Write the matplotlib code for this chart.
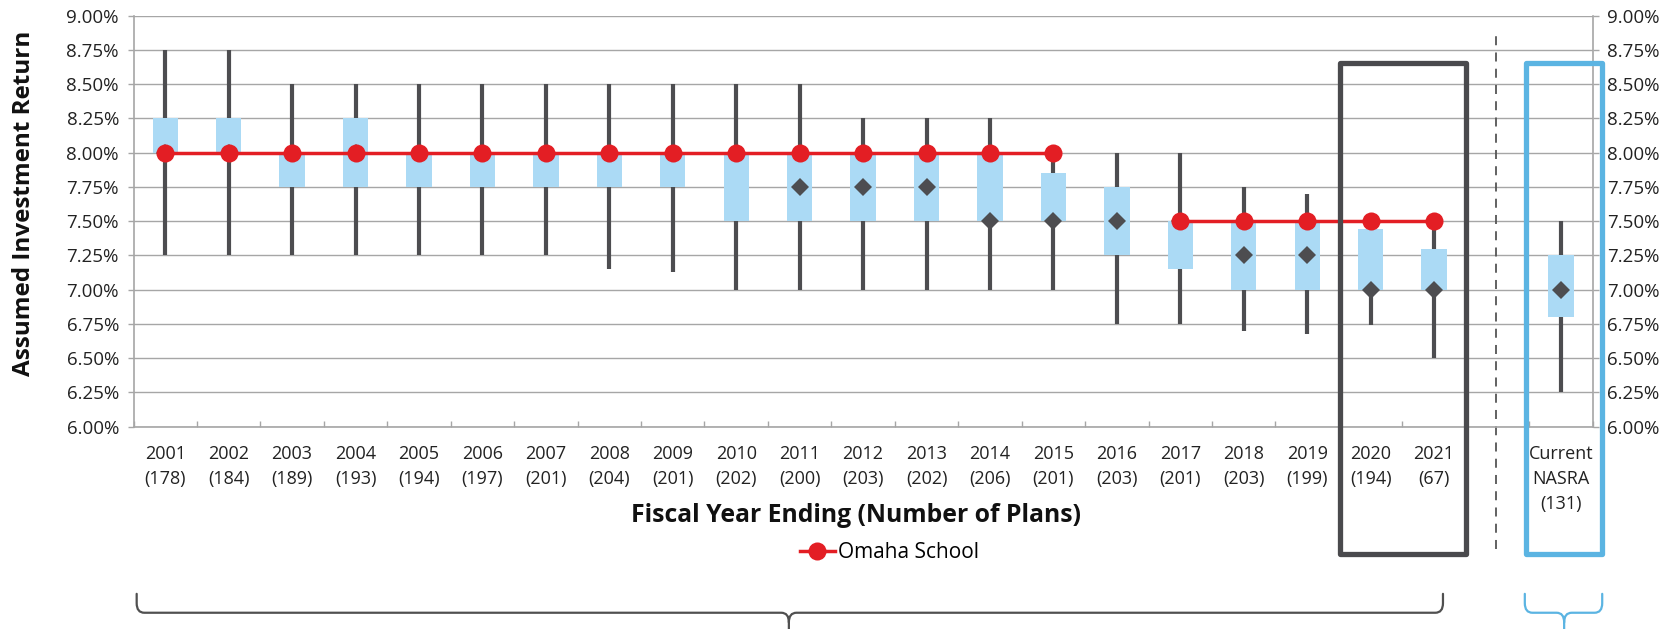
import numpy as np
import matplotlib
matplotlib.use("Agg")
import matplotlib.pyplot as plt
from matplotlib.path import Path
from matplotlib.patches import PathPatch, Rectangle
from matplotlib.lines import Line2D

plt.rcParams['font.family'] = ['Open Sans', 'DejaVu Sans']

# ---------------- data ----------------
years = ['2001', '2002', '2003', '2004', '2005', '2006', '2007', '2008', '2009', '2010',
         '2011', '2012', '2013', '2014', '2015', '2016', '2017', '2018', '2019', '2020', '2021']
n_plans = [178, 184, 189, 193, 194, 197, 201, 204, 201, 202,
           200, 203, 202, 206, 201, 203, 201, 203, 199, 194, 67]
current_label = 'Current\nNASRA\n(131)'

# distribution per year (+ current NASRA as last entry)
low    = [7.25, 7.25, 7.25, 7.25, 7.25, 7.25, 7.25, 7.15, 7.13, 7.00, 7.00,
          7.00, 7.00, 7.00, 7.00, 6.75, 6.75, 6.70, 6.68, 6.74, 6.50, 6.25]
q1     = [8.00, 8.00, 7.75, 7.75, 7.75, 7.75, 7.75, 7.75, 7.75, 7.50, 7.50,
          7.50, 7.50, 7.50, 7.50, 7.25, 7.15, 7.00, 7.00, 7.00, 7.00, 6.80]
median = [8.00, 8.00, 8.00, 8.00, 8.00, 8.00, 8.00, 8.00, 8.00, 8.00, 7.75,
          7.75, 7.75, 7.50, 7.50, 7.50, 7.50, 7.25, 7.25, 7.00, 7.00, 7.00]
q3     = [8.25, 8.25, 8.00, 8.25, 8.00, 8.00, 8.00, 8.00, 8.00, 8.00, 8.00,
          8.00, 8.00, 8.00, 7.85, 7.75, 7.50, 7.50, 7.50, 7.44, 7.30, 7.25]
high   = [8.75, 8.75, 8.50, 8.50, 8.50, 8.50, 8.50, 8.50, 8.50, 8.50, 8.50,
          8.25, 8.25, 8.25, 8.00, 8.00, 8.00, 7.75, 7.70, 7.50, 7.50, 7.50]

omaha = [8.00] * 15 + [np.nan] + [7.50] * 5

y_ticks = [6.00, 6.25, 6.50, 6.75, 7.00, 7.25, 7.50, 7.75, 8.00, 8.25, 8.50, 8.75, 9.00]

# ---------------- colors ----------------
C_WHISK = '#4D4D50'
C_BOX = '#ABDAF5'
C_RED = '#E31E24'
C_GRID = '#A6A6A6'
C_FRAME = '#4A4A4D'
C_BLUE = '#5BB4E2'

# ---------------- figure ----------------
fig = plt.figure(figsize=(16.75, 6.29), dpi=100)
ax = fig.add_axes([133.5 / 1675, 1 - 426.7 / 629, (1592.7 - 133.5) / 1675, (426.7 - 15.7) / 629])

ncat = len(years) + 2  # years, empty slot, current
x_years = np.arange(len(years))
x_cur = ncat - 1
x_all = np.append(x_years, x_cur)

labels = [f'{y}\n({n})' for y, n in zip(years, n_plans)] + ['', current_label]

low = np.array(low); q1 = np.array(q1); q3 = np.array(q3); high = np.array(high)

# whiskers
ax.vlines(x_all, low, high, color=C_WHISK, lw=3.0, zorder=3)
# boxes
ax.bar(x_all, q3 - q1, bottom=q1, width=0.40, color=C_BOX, edgecolor='none', zorder=4)
# medians
ax.plot(x_all, median, 'D', color=C_WHISK, markersize=9.3, markeredgewidth=0, zorder=5)
# Omaha School
ax.plot(x_years, omaha, '-o', color=C_RED, lw=2.5, markersize=13, markeredgewidth=0,
        zorder=6, label='Omaha School')

# axes formatting
ax.set_xlim(-0.5, ncat - 0.5)
ax.set_ylim(6.0, 9.0)
ax.set_yticks(y_ticks)
ax.set_yticklabels([f'{v:.2f}%' for v in y_ticks])
ax.yaxis.grid(True, color=C_GRID, lw=1.0, zorder=0)
ax.set_axisbelow(True)
ax.tick_params(axis='y', which='both', direction='out', length=4.5, width=1.0, color=C_GRID,
               labelsize=13.5, labelcolor='#222222', left=True, right=True,
               labelleft=True, labelright=True, pad=6)
ax.set_xticks(np.arange(ncat))
ax.set_xticklabels(labels, linespacing=1.47)
ax.tick_params(axis='x', which='major', length=0, labelsize=13, labelcolor='#222222', pad=13.5)
ax.set_xticks(np.arange(ncat + 1) - 0.5, minor=True)
ax.tick_params(axis='x', which='minor', direction='in', length=4, width=1.0, color=C_GRID)
for side in ['left', 'right', 'bottom']:
    ax.spines[side].set_color(C_GRID)
    ax.spines[side].set_linewidth(1.2)
ax.spines['top'].set_visible(False)

# y label and x label
fig.text(24 / 1675, 1 - 203 / 629, 'Assumed Investment Return', rotation=90, ha='center',
         va='center', fontsize=17.5, fontweight='bold', color='#111111')
fig.text(856 / 1675, 1 - 515 / 629, 'Fiscal Year Ending (Number of Plans)', ha='center',
         va='center', fontsize=17.8, fontweight='bold', color='#111111')

# legend
handle = Line2D([], [], color=C_RED, lw=2.5, marker='o', markersize=13, markeredgewidth=0)
fig.legend([handle], ['Omaha School'], loc='center', bbox_to_anchor=(889.5 / 1675, 1 - 553 / 629),
           frameon=False, fontsize=15, handlelength=1.67, handletextpad=0.15, borderpad=0)

# highlight frames
ax.add_patch(Rectangle((18.52, 5.07), 1.98, 8.653 - 5.07, fill=False, edgecolor=C_FRAME,
                       lw=3.8, joinstyle='round', clip_on=False, zorder=7))
ax.add_patch(Rectangle((21.45, 5.07), 1.2, 8.653 - 5.07, fill=False, edgecolor=C_BLUE,
                       lw=3.8, joinstyle='round', clip_on=False, zorder=7))
ax.add_line(Line2D([20.97, 20.97], [5.11, 8.874], color='#555555', lw=1.3,
                   linestyle=(0, (5, 4)), clip_on=False))


def brace(x0, x1, xm, ytop, ybar, ybot, color):
    dx = 0.12
    r = 0.07
    verts = [(x0, ytop), (x0, ybar + r), (x0, ybar), (x0 + dx, ybar),
             (xm - dx, ybar), (xm, ybar), (xm, ybar - r), (xm, ybot),
             (xm, ybar - r), (xm, ybar), (xm + dx, ybar),
             (x1 - dx, ybar), (x1, ybar), (x1, ybar + r), (x1, ytop)]
    codes = [Path.MOVETO, Path.LINETO, Path.CURVE3, Path.CURVE3,
             Path.LINETO, Path.CURVE3, Path.CURVE3, Path.LINETO,
             Path.MOVETO, Path.CURVE3, Path.CURVE3,
             Path.LINETO, Path.CURVE3, Path.CURVE3, Path.LINETO]
    ax.add_patch(PathPatch(Path(verts, codes), fill=False, edgecolor=color, lw=1.6,
                           clip_on=False, capstyle='round'))


brace(-0.45, 20.14, 9.83, 4.78, 4.642, 4.50, '#505050')
brace(21.43, 22.65, 22.05, 4.78, 4.642, 4.50, C_BLUE)

fig.savefig('out.png', dpi=100)
